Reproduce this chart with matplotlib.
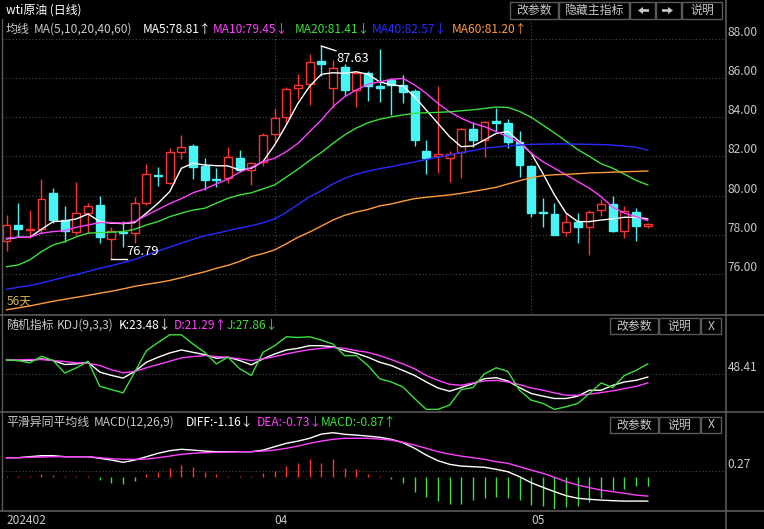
import matplotlib
matplotlib.use("Agg")
import matplotlib.pyplot as plt
from matplotlib import transforms
from matplotlib.patches import Rectangle, FancyArrow
import numpy as np

plt.rcParams['font.family'] = ['Noto Sans CJK SC', 'DejaVu Sans']

W, H, DPI = 764, 529, 100

# ---------------- data ----------------
opens  = [77.68, 78.49, 78.24, 78.32, 80.13, 78.76, 78.15, 79.14, 79.53, 77.81,
          78.14, 78.09, 79.62, 81.05, 80.64, 82.25, 82.54, 81.52, 80.86, 80.89,
          81.91, 81.31, 81.72, 83.15, 84.03, 85.48, 85.68, 86.88, 85.48, 86.55,
          85.39, 86.24, 85.59, 85.90, 85.65, 85.35, 82.30, 82.04, 81.94, 82.22,
          83.40, 82.84, 83.81, 83.71, 82.72, 81.52, 79.16, 79.06, 78.17, 78.68,
          78.39, 79.27, 79.56, 78.22, 79.16, 78.47]
highs  = [79.02, 79.65, 79.27, 80.84, 80.41, 79.49, 80.69, 79.65, 79.99, 78.42,
          78.71, 79.92, 81.62, 81.45, 82.45, 83.10, 82.64, 81.91, 81.43, 82.50,
          82.33, 81.72, 83.20, 84.46, 85.53, 86.21, 87.23, 87.63, 86.92, 86.72,
          86.32, 86.35, 87.50, 86.02, 86.15, 85.43, 82.84, 85.59, 82.28, 83.47,
          83.77, 83.80, 84.46, 83.90, 83.32, 81.57, 79.90, 79.62, 79.14, 79.11,
          79.27, 79.82, 79.99, 79.48, 79.36, 78.60]
lows   = [77.20, 77.88, 77.83, 78.10, 78.60, 77.63, 78.00, 78.09, 77.61, 76.79,
          77.40, 77.61, 79.55, 80.50, 80.60, 81.86, 80.87, 80.29, 80.43, 80.63,
          81.23, 80.55, 81.52, 82.67, 83.64, 84.92, 84.63, 86.12, 84.46, 85.10,
          84.54, 84.83, 84.79, 84.12, 84.74, 82.54, 81.09, 81.18, 80.72, 80.92,
          82.50, 81.99, 83.32, 82.42, 80.97, 78.90, 78.42, 77.98, 77.96, 77.58,
          76.98, 78.97, 78.17, 77.83, 77.71, 78.34]
closes = [78.49, 78.32, 78.31, 79.82, 78.76, 78.19, 79.11, 79.48, 77.87, 78.19,
          78.10, 79.62, 81.11, 81.00, 82.22, 82.50, 81.48, 80.80, 80.82, 81.99,
          81.31, 81.69, 83.10, 83.98, 85.43, 85.65, 86.83, 86.72, 86.53, 85.39,
          86.24, 85.61, 85.48, 85.62, 85.30, 82.84, 81.94, 82.11, 82.11, 83.40,
          82.84, 83.74, 83.69, 82.76, 81.57, 79.14, 79.12, 78.00, 78.68, 78.42,
          79.19, 79.56, 78.22, 79.22, 78.47, 78.55]

ma5  = [77.80, 77.88, 77.88, 78.29, 78.68, 78.71, 78.82, 79.07, 78.68, 78.60,
        78.58, 78.63, 79.11, 79.62, 80.21, 81.40, 81.65, 81.57, 81.53, 81.52,
        81.31, 81.40, 81.74, 82.59, 83.61, 84.71, 85.58, 86.19, 86.27, 86.24,
        86.32, 86.19, 85.81, 85.65, 85.59, 85.05, 84.37, 83.69, 83.01, 82.50,
        82.54, 82.84, 83.18, 83.27, 82.76, 82.16, 81.14, 80.04, 79.11, 78.68,
        78.68, 78.76, 78.82, 78.90, 78.90, 78.82]
ma10 = [77.83, 77.88, 77.88, 78.09, 78.17, 78.22, 78.39, 78.51, 78.63, 78.63,
        78.60, 78.68, 79.00, 79.30, 79.60, 79.85, 80.15, 80.35, 80.60, 80.85,
        81.20, 81.45, 81.74, 81.91, 82.25, 82.67, 83.27, 83.86, 84.54, 85.05,
        85.39, 85.68, 85.81, 85.93, 85.98, 85.65, 85.22, 84.71, 84.28, 83.95,
        83.69, 83.52, 83.27, 83.01, 82.70, 82.16, 81.74, 81.40, 81.06, 80.72,
        80.38, 79.95, 79.41, 79.11, 78.93, 78.73]
ma20 = [76.38, 76.47, 76.73, 77.15, 77.49, 77.66, 77.91, 78.09, 78.12, 78.14,
        78.17, 78.29, 78.51, 78.68, 78.93, 79.11, 79.27, 79.36, 79.62, 79.87,
        80.04, 80.15, 80.35, 80.55, 80.95, 81.35, 81.80, 82.20, 82.67, 83.10,
        83.45, 83.72, 83.90, 84.02, 84.12, 84.20, 84.23, 84.25, 84.28, 84.33,
        84.38, 84.45, 84.52, 84.50, 84.30, 84.00, 83.60, 83.20, 82.78, 82.35,
        82.00, 81.63, 81.40, 81.10, 80.78, 80.55]
ma40 = [75.23, 75.33, 75.42, 75.55, 75.70, 75.85, 75.98, 76.14, 76.30, 76.43,
        76.59, 76.75, 76.97, 77.18, 77.38, 77.58, 77.78, 77.96, 78.08, 78.22,
        78.35, 78.47, 78.62, 78.82, 79.15, 79.55, 79.95, 80.25, 80.60, 80.88,
        81.10, 81.25, 81.38, 81.48, 81.60, 81.72, 81.85, 81.96, 82.08, 82.20,
        82.30, 82.42, 82.48, 82.54, 82.58, 82.62, 82.63, 82.64, 82.64, 82.63,
        82.62, 82.61, 82.58, 82.53, 82.47, 82.33]
ma60 = [74.18, 74.28, 74.38, 74.50, 74.62, 74.72, 74.82, 74.92, 75.03, 75.13,
        75.25, 75.38, 75.48, 75.57, 75.68, 75.82, 75.98, 76.12, 76.30, 76.45,
        76.65, 76.90, 77.05, 77.24, 77.55, 77.88, 78.15, 78.45, 78.76, 79.00,
        79.17, 79.30, 79.48, 79.58, 79.72, 79.85, 79.92, 79.98, 80.04, 80.12,
        80.22, 80.32, 80.43, 80.60, 80.76, 80.92, 81.02, 81.07, 81.09, 81.12,
        81.16, 81.18, 81.20, 81.22, 81.24, 81.26]

kdj_k = [67.8, 66.9, 66.9, 69.2, 66.9, 61.3, 62.2, 64.5, 50.7, 46.0,
         42.3, 51.6, 64.5, 71.5, 77.5, 81.7, 78.4, 75.2, 70.1, 71.5,
         66.9, 60.8, 69.2, 76.1, 81.7, 84.0, 87.7, 87.7, 86.3, 80.7,
         77.0, 71.5, 64.5, 59.9, 53.0, 46.0, 36.8, 28.4, 23.8, 28.9,
         34.4, 41.4, 42.8, 38.2, 28.9, 20.6, 16.9, 13.6, 13.6, 16.9,
         25.2, 25.2, 32.1, 36.8, 39.1, 43.7]
kdj_d = [68.2, 67.8, 68.2, 68.2, 66.9, 65.5, 63.6, 63.2, 59.9, 53.9,
         49.7, 51.6, 56.7, 61.3, 65.9, 70.6, 72.4, 73.8, 72.4, 71.5,
         69.2, 66.9, 69.2, 72.4, 76.1, 79.4, 82.1, 84.0, 85.4, 84.0,
         80.7, 78.4, 73.8, 68.2, 62.2, 55.3, 46.0, 39.1, 33.5, 32.1,
         35.4, 38.2, 39.1, 36.8, 33.1, 28.4, 25.2, 21.5, 18.2, 18.2,
         19.6, 21.9, 24.3, 27.5, 30.7, 35.4]
kdj_j = [67.8, 66.9, 63.6, 72.9, 66.9, 49.3, 56.7, 65.9, 30.7, 26.1,
         21.5, 50.7, 80.7, 92.3, 103.0, 103.0, 90.0, 78.4, 62.2, 71.5,
         55.3, 46.0, 78.4, 87.7, 100.2, 99.3, 100.2, 95.6, 90.0, 73.8,
         73.8, 59.9, 41.4, 36.8, 29.8, 13.6, -1.7, -1.7, 4.4, 26.1,
         28.9, 48.3, 56.7, 51.6, 25.2, 11.3, 6.7, -1.7, 2.0, 6.7,
         20.6, 35.4, 28.9, 46.0, 53.0, 62.2]

diff = [0.95, 0.95, 1.00, 1.05, 1.05, 1.00, 1.00, 1.00, 0.92, 0.83,
        0.72, 0.83, 1.00, 1.17, 1.30, 1.37, 1.33, 1.28, 1.25, 1.25,
        1.25, 1.25, 1.33, 1.50, 1.67, 1.78, 1.92, 2.13, 2.20, 2.12,
        2.08, 2.03, 1.97, 1.87, 1.70, 1.42, 1.08, 0.80, 0.62, 0.53,
        0.50, 0.47, 0.37, 0.25, 0.00, -0.30, -0.53, -0.75, -0.95, -1.08,
        -1.13, -1.17, -1.20, -1.22, -1.22, -1.22]
dea = [0.95, 0.95, 0.97, 0.98, 1.00, 1.00, 1.00, 1.00, 0.95, 0.90,
       0.87, 0.87, 0.88, 0.95, 1.03, 1.12, 1.17, 1.20, 1.22, 1.23,
       1.25, 1.25, 1.28, 1.33, 1.42, 1.53, 1.67, 1.78, 1.87, 1.92,
       1.92, 1.92, 1.88, 1.83, 1.72, 1.58, 1.42, 1.25, 1.13, 1.03,
       0.95, 0.87, 0.75, 0.67, 0.50, 0.33, 0.17, -0.03, -0.25, -0.42,
       -0.55, -0.67, -0.75, -0.83, -0.92, -0.97]
macd = [0.05, 0.05, 0.05, 0.13, 0.07, 0.05, 0.03, 0.03, -0.17, -0.30,
        -0.37, -0.20, 0.12, 0.25, 0.42, 0.58, 0.47, 0.25, 0.13, 0.05,
        0.05, 0.03, 0.17, 0.28, 0.53, 0.67, 0.87, 0.70, 0.87, 0.42,
        0.37, 0.13, 0.05, -0.13, -0.30, -0.75, -1.03, -1.20, -1.37, -1.38,
        -1.17, -1.08, -1.03, -1.08, -1.17, -1.42, -1.47, -1.62, -1.50, -1.47,
        -1.25, -1.08, -0.67, -0.63, -0.47, -0.47]

price_ticks = [76, 78, 80, 82, 84, 86, 88]
kdj_ticks = [48.41]
macd_ticks = [0.27]
date_idx = [0, 23, 45]
date_labels = ['202402', '04', '05']

title_text = 'wti原油 (日线)'
ma_header = ['均线', 'MA(5,10,20,40,60)']
ma_labels = ['MA5:78.81↑', 'MA10:79.45↓', 'MA20:81.41↓', 'MA40:82.57↓', 'MA60:81.20↑']
kdj_header = ['随机指标', 'KDJ(9,3,3)']
kdj_labels = ['K:23.48↓', 'D:21.29↑', 'J:27.86↓']
macd_header = ['平滑异同平均线', 'MACD(12,26,9)']
macd_labels = ['DIFF:-1.16↓', 'DEA:-0.73↓', 'MACD:-0.87↑']

# ---------------- style ----------------
RED = '#ff3232'
CYAN = '#48f4f4'
C_MA = ['#ffffff', '#ff40ff', '#3ce03c', '#2a2aff', '#ff9a3c']
GRID = '#4a4a4a'
BORDER = '#5a5a5a'
TXT = '#c8c8c8'
FS = 8.6

fig = plt.figure(figsize=(W / DPI, H / DPI), dpi=DPI, facecolor='black')
T = transforms.Affine2D().scale(1, -1).translate(0, H).scale(1.0 / DPI) + fig.dpi_scale_trans

n = len(closes)
x = np.arange(n)
XL = (-0.386, 61.71)


def add_ax(top, bottom):
    ax = fig.add_axes([2 / W, 1 - bottom / H, 724 / W, (bottom - top) / H])
    ax.set_facecolor('black')
    for s in ax.spines.values():
        s.set_visible(False)
    ax.set_xlim(*XL)
    ax.set_xticks([])
    ax.set_yticks([])
    return ax


def right_labels(ax, ticks, fmt):
    tr = ax.get_yaxis_transform()
    for t in ticks:
        ax.axhline(t, color=GRID, ls=(0, (1, 2)), lw=0.8, zorder=1)
        ax.text(1.002, t, fmt(t), transform=tr, color=TXT, fontsize=FS,
                va='bottom', ha='left', clip_on=False)


def vgrid(ax):
    for i in date_idx[1:]:
        ax.axvline(i, color=GRID, ls=(0, (1, 2)), lw=0.8, zorder=1)


# ---------------- main panel ----------------
ax = add_ax(19, 313)
ax.set_ylim(74.02, 89.01)
right_labels(ax, price_ticks, lambda t: f'{t:.2f}')
vgrid(ax)

o = np.array(opens); c = np.array(closes); hi = np.array(highs); lo = np.array(lows)
up = c >= o
col = np.where(up, RED, CYAN)
face = np.where(up, 'black', CYAN)
ax.vlines(x, lo, hi, colors=col, lw=1.0, zorder=2)
bb = np.minimum(o, c)
bh = np.maximum(np.abs(c - o), 0.03)
ax.bar(x, bh, bottom=bb, width=0.68, color=face, edgecolor=col, linewidth=1.0, zorder=3)

for ma, cc in zip([ma5, ma10, ma20, ma40, ma60], C_MA):
    ax.plot(x, ma, color=cc, lw=1.0, zorder=4)

ih = int(np.argmax(hi)); il = int(np.argmin(lo))
ax.plot([ih, ih + 1.25], [hi[ih], hi[ih] - 0.24], color='white', lw=1.0, zorder=5)
ax.text(ih + 1.3, hi[ih] - 0.28, f'{hi[ih]:.2f}', color='white', fontsize=FS + 0.8,
        va='top', ha='left', zorder=5)
ax.plot([il, il + 1.3], [lo[il], lo[il]], color='white', lw=1.0, zorder=5)
ax.text(il + 1.3, lo[il] + 0.05, f'{lo[il]:.2f}', color='white', fontsize=FS + 0.8,
        va='bottom', ha='left', zorder=5)
ax.text(0.006, 0.018, f'{n}天', transform=ax.transAxes, color='#d8b850',
        fontsize=FS, va='bottom', ha='left')

# ---------------- KDJ panel ----------------
ak = add_ax(316, 410)
ak.set_ylim(-2.56, 129.4)
right_labels(ak, kdj_ticks, lambda t: f'{t:.2f}')
ak.plot(x, kdj_k, color='white', lw=1.0, zorder=4)
ak.plot(x, kdj_d, color='#ff40ff', lw=1.0, zorder=4)
ak.plot(x, kdj_j, color='#3ce03c', lw=1.0, zorder=4)

# ---------------- MACD panel ----------------
am = add_ax(413, 509)
am.set_ylim(-1.615, 3.185)
right_labels(am, macd_ticks, lambda t: f'{t:.2f}')
mv = np.array(macd)
am.vlines(x, 0, mv, colors=np.where(mv >= 0, RED, '#3ce03c'), lw=1.0, zorder=3)
am.plot(x, diff, color='white', lw=1.0, zorder=4)
am.plot(x, dea, color='#ff40ff', lw=1.0, zorder=4)

# date labels
bt = transforms.blended_transform_factory(am.transData, T)
for i, lab in zip(date_idx, date_labels):
    fig.text(i, 521, lab, transform=bt, color=TXT, fontsize=FS, va='center', ha='left')

# ---------------- frame lines ----------------
for yy in [314.5, 411.5, 510.5]:
    fig.add_artist(plt.Line2D([0, W], [yy, yy], transform=T, color=BORDER, lw=1.2))
fig.add_artist(plt.Line2D([726, 726], [0, H], transform=T, color=BORDER, lw=1.2))
fig.add_artist(plt.Line2D([1.5, 1.5], [19, 510], transform=T, color=BORDER, lw=1.0))


# ---------------- header texts ----------------
def htext(xx, yy, s, cc):
    fig.text(xx, yy, s, transform=T, color=cc, fontsize=FS, va='center', ha='left')


htext(6, 10, title_text, 'white')
htext(6, 29.5, ma_header[0], TXT)
htext(34, 29.5, ma_header[1], TXT)
for lab, xx, cc in zip(ma_labels, [143, 213, 295, 372, 452], C_MA):
    htext(xx, 29.5, lab, cc)

htext(6, 325, kdj_header[0], TXT)
htext(57, 325, kdj_header[1], TXT)
for lab, xx, cc in zip(kdj_labels, [119, 174, 227], ['white', '#ff40ff', '#3ce03c']):
    htext(xx, 325, lab, cc)

htext(6, 422.5, macd_header[0], TXT)
htext(94, 422.5, macd_header[1], TXT)
for lab, xx, cc in zip(macd_labels, [186, 257, 321], ['white', '#ff40ff', '#3ce03c']):
    htext(xx, 422.5, lab, cc)


# ---------------- buttons ----------------
def button(x0, x1, y0, y1, label=None):
    fig.add_artist(Rectangle((x0, y0), x1 - x0, y1 - y0, transform=T, fill=False,
                             edgecolor='#5a5a5a', lw=1.0))
    if label:
        fig.text((x0 + x1) / 2, (y0 + y1) / 2, label, transform=T, color=TXT,
                 fontsize=FS, va='center', ha='center')


button(510, 558, 2, 19, '改参数')
button(559, 629, 2, 19, '隐藏主指标')
button(630, 655, 2, 19)
button(656, 681, 2, 19)
button(682, 722, 2, 19, '说明')
fig.add_artist(FancyArrow(649, 10.5, -11, 0, width=2.6, head_width=7, head_length=5,
                          length_includes_head=True, transform=T, color=TXT, lw=0))
fig.add_artist(FancyArrow(662, 10.5, 11, 0, width=2.6, head_width=7, head_length=5,
                          length_includes_head=True, transform=T, color=TXT, lw=0))

for (y0, y1) in [(318, 334), (417, 433)]:
    button(610, 658, y0, y1, '改参数')
    button(659, 700, y0, y1, '说明')
    button(701, 721, y0, y1, 'X')

fig.savefig('out.png', dpi=DPI, facecolor='black')
